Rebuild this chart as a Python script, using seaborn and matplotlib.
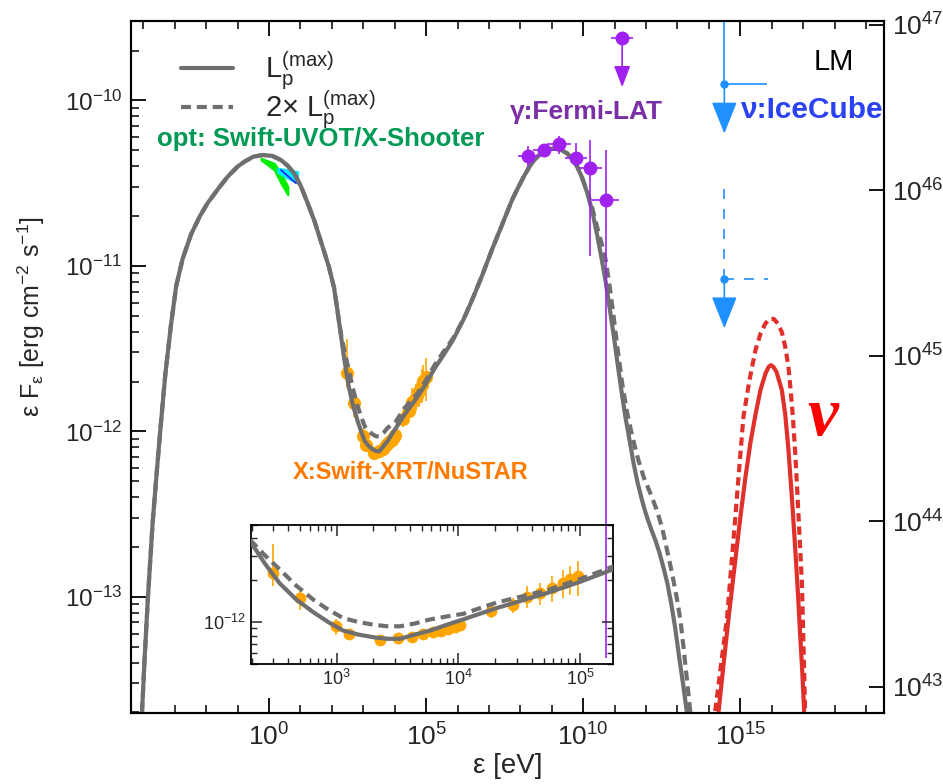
import seaborn as sns
import matplotlib.pyplot as plt
import matplotlib.ticker as mticker
from matplotlib.lines import Line2D
from matplotlib.patches import ArrowStyle
import numpy as np
import pandas as pd

sns.set_theme(style='ticks')
plt.rcParams['font.family'] = ['Liberation Sans', 'DejaVu Sans']
plt.rcParams['mathtext.fontset'] = 'custom'
plt.rcParams['mathtext.rm'] = 'Liberation Sans'
plt.rcParams['mathtext.it'] = 'Liberation Sans:italic'
plt.rcParams['mathtext.bf'] = 'Liberation Sans:bold'
plt.rcParams['axes.linewidth'] = 1.5
plt.rcParams['axes.edgecolor'] = 'black'

# ---- data (log10 of energy [eV] and log10 of eps*F_eps [erg cm^-2 s^-1]) ----
# model SED, L_p = L_p(max)
model_logE = [-4.04, -3.95, -3.85, -3.70, -3.55, -3.46, -3.30, -3.12, -2.95, -2.75,
              -2.48, -2.20, -1.95, -1.60, -1.31, -1.00, -0.78, -0.50, -0.20, 0.10,
              0.38, 0.60, 0.80, 1.02, 1.23, 1.45, 1.65, 1.90, 2.07, 2.18,
              2.29, 2.41, 2.53, 2.67, 2.81, 2.93, 3.05, 3.18, 3.31, 3.42,
              3.52, 3.64, 3.77, 3.90, 4.04, 4.31, 4.73, 5.00, 5.27, 5.55,
              5.85, 6.20, 6.50, 6.80, 7.10, 7.42, 7.74, 7.92, 8.11, 8.32,
              8.54, 8.80, 9.07, 9.30, 9.49, 9.65, 9.81, 9.97, 10.13, 10.30,
              10.45, 10.58, 10.70, 10.80, 10.90, 11.00, 11.10, 11.22, 11.34, 11.48,
              11.61, 11.73, 11.85, 11.95, 12.05, 12.18, 12.30, 12.42, 12.55, 12.68,
              12.80, 12.92, 13.05, 13.18, 13.30]
model_logF = [-13.70, -13.35, -13.00, -12.55, -12.20, -12.00, -11.66, -11.36, -11.12, -10.96,
              -10.81, -10.70, -10.62, -10.53, -10.46, -10.40, -10.37, -10.34, -10.33, -10.335,
              -10.36, -10.395, -10.44, -10.52, -10.62, -10.73, -10.85, -11.00, -11.13, -11.27,
              -11.42, -11.58, -11.72, -11.84, -11.93, -12.00, -12.06, -12.09, -12.11, -12.12,
              -12.12, -12.09, -12.06, -12.02, -11.98, -11.90, -11.79, -11.71, -11.62, -11.54,
              -11.45, -11.32, -11.19, -11.05, -10.90, -10.75, -10.60, -10.53, -10.46, -10.39,
              -10.34, -10.30, -10.29, -10.30, -10.32, -10.355, -10.40, -10.47, -10.56, -10.68,
              -10.82, -10.95, -11.08, -11.20, -11.33, -11.46, -11.60, -11.76, -11.91, -12.06,
              -12.20, -12.31, -12.40, -12.47, -12.53, -12.60, -12.66, -12.73, -12.82, -12.92,
              -13.04, -13.18, -13.36, -13.53, -13.70]

# model SED, L_p = 2 x L_p(max)
model2_logE = [-4.04, -3.95, -3.85, -3.70, -3.55, -3.46, -3.30, -3.12, -2.95, -2.75,
               -2.48, -2.20, -1.95, -1.60, -1.31, -1.00, -0.78, -0.50, -0.20, 0.10,
               0.38, 0.60, 0.80, 1.02, 1.23, 1.45, 1.65, 1.90, 2.07, 2.18,
               2.29, 2.41, 2.53, 2.67, 2.81, 2.93, 3.05, 3.18, 3.31, 3.42,
               3.52, 3.64, 3.77, 3.90, 4.04, 4.31, 4.73, 5.00, 5.27, 5.55,
               5.85, 6.20, 6.50, 6.80, 7.10, 7.42, 7.74, 7.92, 8.11, 8.32,
               8.54, 8.80, 9.07, 9.30, 9.49, 9.65, 9.81, 9.97, 10.13, 10.30,
               10.45, 10.58, 10.71, 10.84, 10.97, 11.10, 11.24, 11.40, 11.56, 11.75,
               11.93, 12.15, 12.35, 12.52, 12.67, 12.83, 12.99, 13.10, 13.20, 13.30, 13.41]
model2_logF = [-13.70, -13.35, -13.00, -12.55, -12.20, -12.00, -11.66, -11.36, -11.12, -10.96,
               -10.81, -10.70, -10.62, -10.53, -10.46, -10.40, -10.37, -10.34, -10.33, -10.335,
               -10.36, -10.395, -10.44, -10.52, -10.62, -10.73, -10.85, -11.00, -11.13, -11.27,
               -11.41, -11.52, -11.62, -11.74, -11.84, -11.91, -11.97, -12.00, -12.02, -12.03,
               -12.03, -12.01, -11.98, -11.96, -11.94, -11.86, -11.77, -11.69, -11.60, -11.52,
               -11.44, -11.32, -11.19, -11.05, -10.90, -10.75, -10.60, -10.53, -10.46, -10.39,
               -10.34, -10.30, -10.29, -10.30, -10.32, -10.355, -10.40, -10.47, -10.55, -10.66,
               -10.77, -10.86, -10.96, -11.12, -11.31, -11.51, -11.71, -11.89, -12.03, -12.17,
               -12.28, -12.38, -12.48, -12.59, -12.72, -12.86, -13.02, -13.15, -13.32, -13.50, -13.70]

# neutrino spectra
nu_logE = [14.31, 14.47, 14.63, 14.82, 15.00, 15.16, 15.32, 15.48, 15.64, 15.80, 15.90, 15.97,
           16.05, 16.15, 16.32, 16.43, 16.53, 16.64, 16.75, 16.83, 16.90, 16.97, 17.03]
nu_logF = [-13.69, -13.40, -13.12, -12.81, -12.52, -12.28, -12.07, -11.90, -11.75, -11.65, -11.61, -11.60,
           -11.61, -11.64, -11.75, -11.90, -12.11, -12.40, -12.72, -12.97, -13.22, -13.45, -13.69]
nu2_logE = [14.20, 14.40, 14.58, 14.71, 14.84, 14.97, 15.10, 15.29, 15.48, 15.64, 15.79, 15.93, 16.06,
            16.20, 16.32, 16.43, 16.53, 16.60, 16.67, 16.74, 16.80, 16.88, 16.96, 17.01, 17.06]
nu2_logF = [-13.69, -13.39, -13.12, -12.82, -12.52, -12.21, -11.91, -11.69, -11.51, -11.41, -11.35, -11.32, -11.32,
            -11.35, -11.40, -11.49, -11.61, -11.75, -11.91, -12.11, -12.32, -12.62, -12.92, -13.30, -13.69]

# X-ray (Swift-XRT / NuSTAR)
xray_logE = [2.474, 2.70, 2.994, 3.10, 3.356, 3.506, 3.616, 3.712, 3.79, 3.86, 3.917, 3.972,
             4.013, 4.27, 4.45, 4.56, 4.67, 4.767, 4.862, 4.917, 4.985]
xray_logF = [-11.645, -11.826, -12.03, -12.085, -12.128, -12.116, -12.104, -12.085, -12.073,
             -12.061, -12.051, -12.036, -12.02, -11.923, -11.875, -11.82, -11.79, -11.754,
             -11.717, -11.693, -11.669]
xray_lo = [0.095, 0.085, 0.06, 0.03, 0.02, 0.02, 0.02, 0.02, 0.02, 0.02, 0.02, 0.02, 0.02,
           0.05, 0.06, 0.08, 0.085, 0.10, 0.11, 0.11, 0.145]
xray_hi = [0.205, 0.05, 0.05, 0.03, 0.02, 0.02, 0.02, 0.02, 0.02, 0.02, 0.02, 0.02, 0.02,
           0.05, 0.05, 0.08, 0.075, 0.085, 0.095, 0.095, 0.11]

# gamma-ray (Fermi-LAT)
lat_logE = [8.25, 8.75, 9.22, 9.76, 10.23, 10.71]
lat_logF = [-10.337, -10.302, -10.262, -10.349, -10.409, -10.60]
lat_lo = [0.066, 0.04, 0.06, 0.05, 0.53, 2.77]
lat_hi = [0.061, 0.04, 0.05, 0.09, 0.17, 0.30]
lat_xerr = [0.34, 0.34, 0.38, 0.35, 0.37, 0.42]
lat_ul_logE, lat_ul_logF, lat_ul_xerr = 11.24, -9.62, 0.36

# neutrino upper limits (IceCube): solid = Lp(max), dashed = 2x Lp(max)
ice_logE = [14.49, 14.49]
ice_logF = [-9.90, -11.077]
ice_xhi = [1.37, 1.40]
ice_yhi = [0.54, 0.54]
ul_arrow = 0.30

# optical (Swift-UVOT / X-Shooter) bands
uvot_green_logE = [-0.25, 0.17, 0.38, 0.60]
uvot_green_hi = [-10.35, -10.38, -10.44, -10.52]
uvot_green_lo = [-10.36, -10.42, -10.50, -10.57]
uvot_cyan_logE = [0.28, 0.60, 0.91]
uvot_cyan_hi = [-10.41, -10.42, -10.43]
uvot_cyan_lo = [-10.435, -10.47, -10.50]
uvot_blue_logE = [0.38, 0.86]
uvot_blue_logF = [-10.42, -10.50]

lum_offset = 56.544  # log10(4 pi d_L^2)


def pw(a):
    return np.power(10.0, np.asarray(a, dtype=float))


GRAY = '#6f6f6f'
RED = '#e0302c'
PURPLE = '#a020f0'
ORANGE = '#ffa500'
ICE = '#1e90ff'
DASH = (0, (2.4, 1.4))

fig = plt.figure(figsize=(9.43, 7.84), dpi=100)
ax = fig.add_axes([0.1389, 0.0910, 0.7985, 0.8822])
ax.set_xscale('log')
ax.set_yscale('log')

df_m = pd.DataFrame({'E': pw(model_logE), 'F': pw(model_logF)})
df_m2 = pd.DataFrame({'E': pw(model2_logE), 'F': pw(model2_logF)})
df_nu = pd.DataFrame({'E': pw(nu_logE), 'F': pw(nu_logF)})
df_nu2 = pd.DataFrame({'E': pw(nu2_logE), 'F': pw(nu2_logF)})


def draw_models(a):
    sns.lineplot(data=df_m, x='E', y='F', ax=a, color=GRAY, lw=3, estimator=None, sort=False, zorder=3)
    sns.lineplot(data=df_m2, x='E', y='F', ax=a, color=GRAY, lw=3, linestyle=DASH,
                 estimator=None, sort=False, zorder=3)


def draw_xray(a, ms):
    xf = pw(xray_logF)
    a.errorbar(pw(xray_logE), xf,
               yerr=[xf - xf * pw(-np.array(xray_lo)), xf * pw(xray_hi) - xf],
               fmt='o', color=ORANGE, ms=ms, elinewidth=1.2, capsize=0, zorder=2)


# optical bands
ax.fill_between(pw(uvot_green_logE), pw(uvot_green_lo), pw(uvot_green_hi), color='#00ee00', lw=1.5,
                edgecolor='#00ee00', zorder=2)
ax.fill_between(pw(uvot_cyan_logE), pw(uvot_cyan_lo), pw(uvot_cyan_hi), color='#00e8ff', lw=1.5,
                edgecolor='#00e8ff', zorder=2)
sns.lineplot(x=pw(uvot_blue_logE), y=pw(uvot_blue_logF), ax=ax, color='#2020ff', lw=1.2,
             estimator=None, sort=False, zorder=2)

draw_models(ax)
draw_xray(ax, 8.5)

sns.lineplot(data=df_nu, x='E', y='F', ax=ax, color=RED, lw=3, estimator=None, sort=False, zorder=3)
sns.lineplot(data=df_nu2, x='E', y='F', ax=ax, color=RED, lw=3, linestyle=(0, (2.0, 1.2)),
             estimator=None, sort=False, zorder=3)

# Fermi-LAT
le = pw(lat_logE)
lf = pw(lat_logF)
ax.errorbar(le, lf,
            xerr=[le - le * pw(-np.array(lat_xerr)), le * pw(lat_xerr) - le],
            yerr=[lf - lf * pw(-np.array(lat_lo)), lf * pw(lat_hi) - lf],
            fmt='o', color=PURPLE, ms=9, elinewidth=1.2, capsize=0, zorder=4)
ue, uf = pw(lat_ul_logE), pw(lat_ul_logF)
ax.errorbar([ue], [uf], xerr=[[ue - ue * pw(-lat_ul_xerr)], [ue * pw(lat_ul_xerr) - ue]],
            fmt='o', color=PURPLE, ms=9, elinewidth=1.2, capsize=0, zorder=4)
ax.annotate('', xy=(ue, uf * pw(-ul_arrow)), xytext=(ue, uf),
            arrowprops=dict(arrowstyle=ArrowStyle('-|>', head_length=13, head_width=5),
                            color=PURPLE, lw=1.2, shrinkA=0, shrinkB=0, mutation_scale=1), zorder=4)

# IceCube upper limits
for i, ls in enumerate(['-', (0, (6, 6))]):
    e, f = pw(ice_logE[i]), pw(ice_logF[i])
    eb = ax.errorbar([e], [f], xerr=[[0], [e * pw(ice_xhi[i]) - e]], yerr=[[0], [f * pw(ice_yhi[i]) - f]],
                     fmt='o', color=ICE, ms=5, elinewidth=1.2, capsize=0, zorder=4)
    for lc in eb[2]:
        lc.set_linestyle(ls)
    ax.annotate('', xy=(e, f * pw(-ul_arrow)), xytext=(e, f),
                arrowprops=dict(arrowstyle=ArrowStyle('-|>', head_length=20, head_width=8),
                                color=ICE, lw=1.2, shrinkA=0, shrinkB=0, mutation_scale=1),
                zorder=4)

ylo, yhi = -13.70, -9.52
ax.set_xlim(10 ** -4.39, 10 ** 19.57)
ax.set_ylim(10 ** ylo, 10 ** yhi)

ax.xaxis.set_major_locator(mticker.FixedLocator([1e0, 1e5, 1e10, 1e15]))
ax.xaxis.set_minor_locator(mticker.FixedLocator([10.0 ** k for k in range(-4, 20) if k % 5]))
ax.xaxis.set_minor_formatter(mticker.NullFormatter())
ax.yaxis.set_major_locator(mticker.FixedLocator([1e-13, 1e-12, 1e-11, 1e-10]))
ax.yaxis.set_minor_locator(mticker.LogLocator(base=10, subs=np.arange(2, 10)))
ax.yaxis.set_minor_formatter(mticker.NullFormatter())
ax.tick_params(which='major', direction='in', length=11, width=1.3, top=True, right=False, color='black')
ax.tick_params(which='minor', direction='in', length=6, width=1.1, top=True, right=False, color='black')
ax.tick_params(axis='x', labelsize=19, pad=8)
ax.tick_params(axis='y', labelsize=17.5, pad=6)

ax.set_xlabel('ε [eV]', fontsize=20)
ax.xaxis.set_label_coords(0.5, -0.058)
ax.set_ylabel(r'ε F$_\mathregular{ε}$ [erg cm$^\mathregular{-2}$ s$^\mathregular{-1}$]', fontsize=18)
ax.yaxis.set_label_coords(-0.112, 0.572)

# right axis: luminosity
ax2 = ax.twinx()
ax2.set_yscale('log')
ax2.set_ylim(10 ** (ylo + lum_offset), 10 ** (yhi + lum_offset))
ax2.yaxis.set_major_locator(mticker.FixedLocator([1e43, 1e44, 1e45, 1e46, 1e47]))
ax2.yaxis.set_minor_locator(mticker.NullLocator())
ax2.tick_params(which='major', direction='in', length=11, width=1.3, labelsize=19, pad=6, color='black')
for s in ax2.spines.values():
    s.set_linewidth(1.5)

# labels
ax.text(0.0345, 0.829, 'opt: Swift-UVOT/X-Shooter', transform=ax.transAxes, color='#009a55',
        fontsize=18.5, fontweight='bold', va='center', ha='left')
ax.text(0.503, 0.868, 'γ:Fermi-LAT', transform=ax.transAxes, color='#7a2fa6',
        fontsize=19, fontweight='bold', va='center', ha='left')
ax.text(0.809, 0.8716, 'ν:IceCube', transform=ax.transAxes, color='#2a42f2',
        fontsize=21.5, fontweight='bold', va='center', ha='left')
ax.text(0.934, 0.9407, 'LM', transform=ax.transAxes, color='black', fontsize=21, va='center', ha='center')
ax.text(0.372, 0.347, 'X:Swift-XRT/NuSTAR', transform=ax.transAxes, color='#ff7a00',
        fontsize=17, fontweight='bold', va='center', ha='center')
ax.text(0.919, 0.426, 'ν', transform=ax.transAxes, color='red', fontsize=50, family='Liberation Serif',
        fontweight='bold', style='italic', va='center', ha='center')

h1 = Line2D([], [], color=GRAY, lw=3)
h2 = Line2D([], [], color=GRAY, lw=3, linestyle=DASH)
ax.legend([h1, h2], [r'$\mathregular{L_p^{(max)}}$', r'2× $\mathregular{L_p^{(max)}}$'],
          loc='upper left', bbox_to_anchor=(0.066, 0.958), frameon=False, fontsize=21,
          handlelength=1.8, handletextpad=1.1, borderpad=0, borderaxespad=0, labelspacing=-0.13)

# inset: X-ray zoom
axin = fig.add_axes([0.2659, 0.1531, 0.3842, 0.1773])
axin.set_facecolor('none')
axin.set_xscale('log')
axin.set_yscale('log')
draw_models(axin)
draw_xray(axin, 7.5)
axin.set_xlim(10 ** 2.293, 10 ** 5.27)
axin.set_ylim(5e-13, 5e-12)
axin.xaxis.set_major_locator(mticker.FixedLocator([1e3, 1e4, 1e5]))
axin.yaxis.set_major_locator(mticker.FixedLocator([1e-12]))
axin.yaxis.set_minor_locator(mticker.LogLocator(base=10, subs=np.arange(2, 10)))
axin.xaxis.set_minor_locator(mticker.LogLocator(base=10, subs=np.arange(2, 10)))
axin.xaxis.set_minor_formatter(mticker.NullFormatter())
axin.yaxis.set_minor_formatter(mticker.NullFormatter())
axin.set_xlabel('')
axin.set_ylabel('')
axin.tick_params(which='major', direction='in', length=8, width=1.1, top=True, right=True, labelsize=13)
axin.tick_params(which='minor', direction='in', length=4, width=1.0, top=True, right=True)
for s in axin.spines.values():
    s.set_linewidth(1.3)

fig.savefig('out.png', dpi=100)
